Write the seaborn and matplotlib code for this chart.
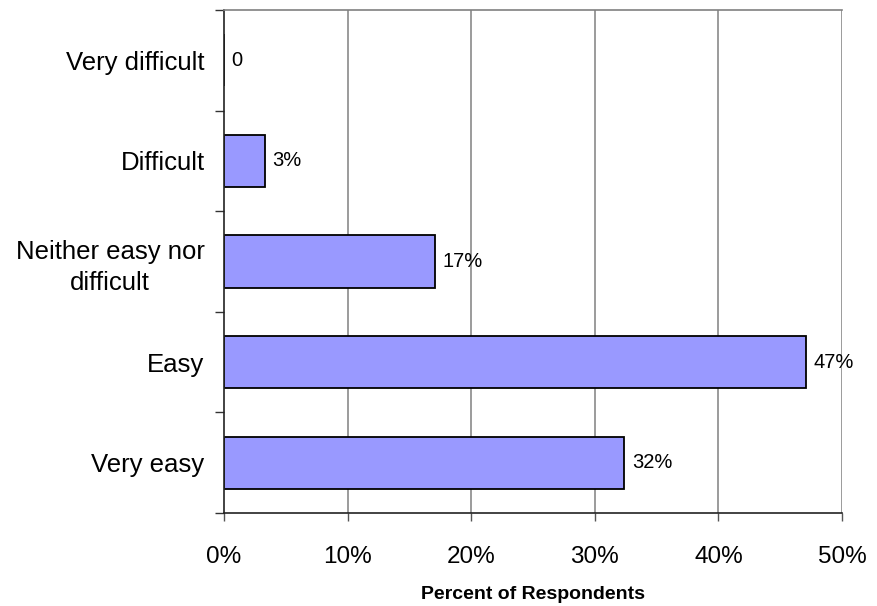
import matplotlib
matplotlib.use("Agg")
import matplotlib.pyplot as plt
import seaborn as sns
import pandas as pd
from matplotlib.ticker import FixedLocator, NullFormatter

categories = ["Very difficult", "Difficult", "Neither easy nor\ndifficult", "Easy", "Very easy"]
percent = [0.0, 3.3, 17.1, 47.1, 32.4]
xticks = [0, 10, 20, 30, 40, 50]
xtick_labels = ["0%", "10%", "20%", "30%", "40%", "50%"]

sns.set_theme(style="white")
plt.rcParams["font.family"] = ["Liberation Sans", "DejaVu Sans"]
plt.rcParams["text.color"] = "black"
plt.rcParams["xtick.color"] = "black"
plt.rcParams["ytick.color"] = "black"
plt.rcParams["axes.labelcolor"] = "black"

df = pd.DataFrame({"category": categories, "percent": percent})

fig = plt.figure(figsize=(8.77, 6.06), dpi=100)
ax = fig.add_axes([0.2554, 0.1535, 0.9601 - 0.2554, 0.9835 - 0.1535])

sns.barplot(data=df, x="percent", y="category", orient="h", color="#9999FF",
            saturation=1, width=0.52, edgecolor="black", linewidth=1.3, ax=ax)

ax.set_xlim(0, 50)
ax.set_ylim(len(categories) - 0.5, -0.5)

# vertical gridlines
ax.set_xticks(xticks)
ax.set_xticklabels(xtick_labels, fontsize=17.5)
for x in xticks[1:]:
    ax.axvline(x, color="#808080", linewidth=1.1, zorder=0)

# category labels at bar centres, tick marks at category boundaries
ax.set_yticks(range(len(categories)))
ax.set_yticklabels(categories, fontsize=18.5, multialignment="center", linespacing=1.35)
ax.yaxis.set_minor_locator(FixedLocator([i - 0.5 for i in range(len(categories) + 1)]))
ax.yaxis.set_minor_formatter(NullFormatter())
ax.tick_params(axis="y", which="major", length=0, pad=14)
ax.tick_params(axis="y", which="minor", left=True, length=6.5, width=1, color="#333333")
ax.tick_params(axis="x", which="major", bottom=True, length=6, width=1, color="#555555", pad=18)

for side in ["left", "bottom"]:
    ax.spines[side].set_color("#222222")
    ax.spines[side].set_linewidth(1.2)
ax.spines["top"].set_color("#808080")
ax.spines["top"].set_linewidth(1.2)
ax.spines["right"].set_visible(False)

# value labels
for i, v in enumerate(percent):
    txt = "0" if v == 0 else f"{v:.0f}%"
    ax.text(v + 0.6, i, txt, va="center", ha="left", fontsize=14.5)

ax.set_ylabel("")
ax.set_xlabel("Percent of Respondents", fontsize=14, fontweight="bold", labelpad=12.5)

fig.savefig("out.png", dpi=100)
